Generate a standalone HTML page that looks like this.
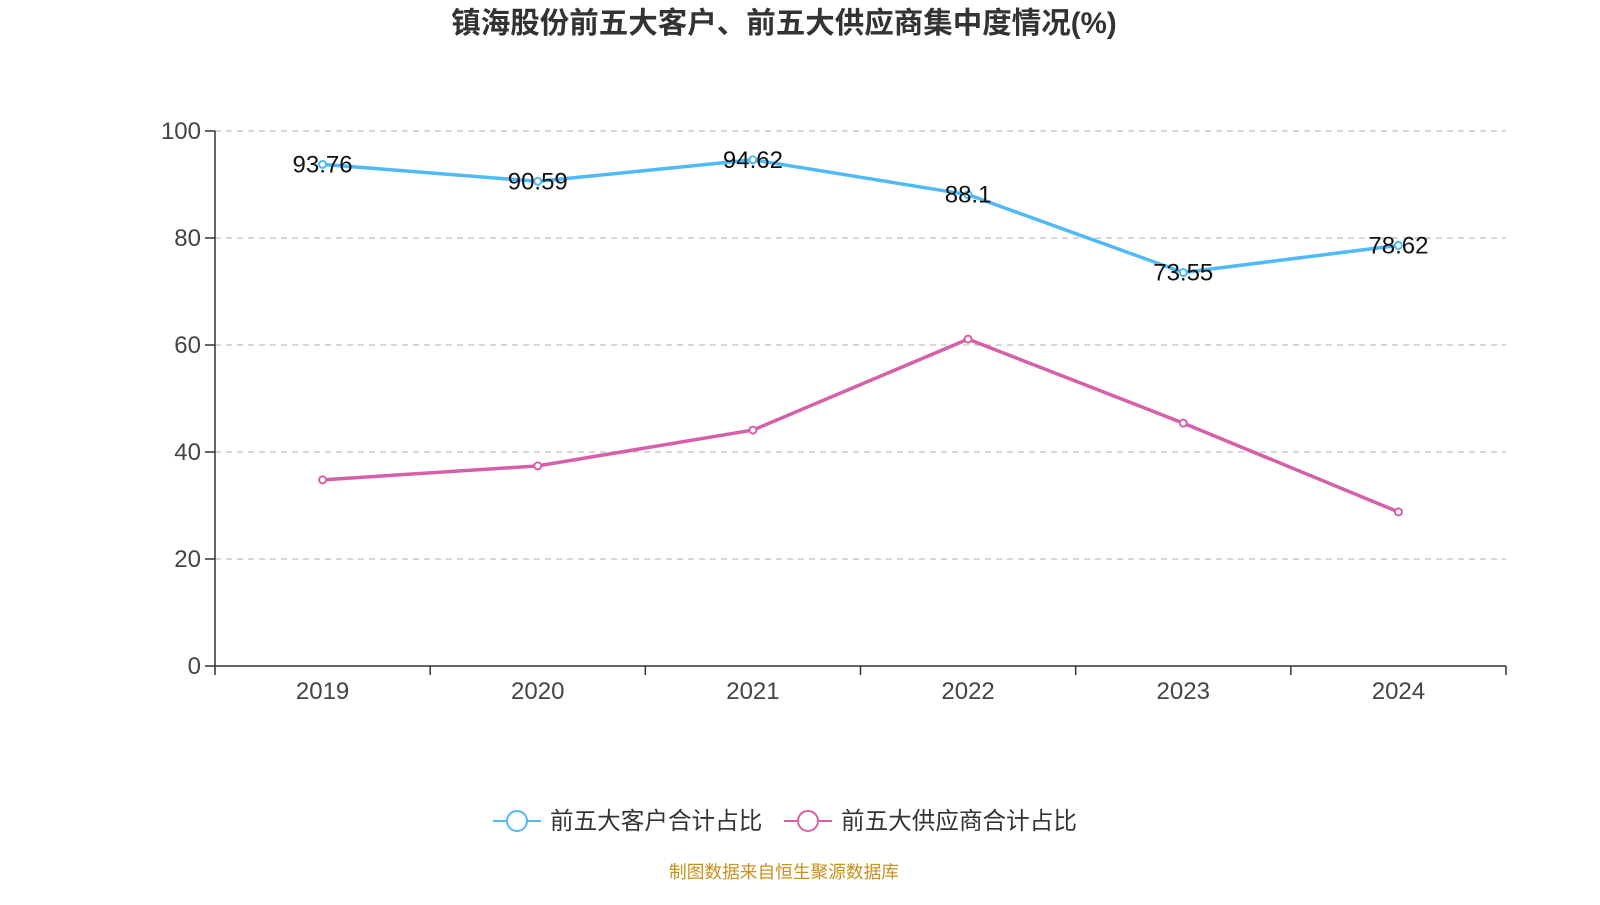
<!DOCTYPE html>
<html><head><meta charset="utf-8">
<style>
body{margin:0;background:#fff;width:1600px;height:900px;overflow:hidden;font-family:"Liberation Sans","Noto Sans CJK SC",sans-serif;}
</style></head>
<body>
<svg id="chart" width="1600" height="900" xmlns="http://www.w3.org/2000/svg" style="font-family:'Liberation Sans','Noto Sans CJK SC',sans-serif">
<text x="784" y="33" text-anchor="middle" font-size="29.5" font-weight="bold" fill="#333">镇海股份前五大客户、前五大供应商集中度情况(%)</text>
<g id="grid"></g><g id="axes"></g><g id="series"></g>
<g>
<line x1="493" y1="821" x2="541" y2="821" stroke="#4fbaf5" stroke-width="2"/>
<circle cx="517" cy="821" r="10" fill="#fff" stroke="#4fbaf5" stroke-width="2"/>
<text x="550" y="829" font-size="23.6" fill="#333">前五大客户合计占比</text>
<line x1="784" y1="821" x2="832" y2="821" stroke="#d660a8" stroke-width="2"/>
<circle cx="808" cy="821" r="10" fill="#fff" stroke="#d660a8" stroke-width="2"/>
<text x="841" y="829" font-size="23.6" fill="#333">前五大供应商合计占比</text>
</g>
<text x="784" y="878" text-anchor="middle" font-size="17.7" fill="#c8901c">制图数据来自恒生聚源数据库</text>
</svg>
<script>
const categories=["2019","2020","2021","2022","2023","2024"];
const customers=[93.76,90.59,94.62,88.1,73.55,78.62];
const suppliers=[34.8,37.4,44.1,61.1,45.4,28.8];
const yTicks=[0,20,40,60,80,100];
const NS="http://www.w3.org/2000/svg";
const x0=215,x1=1506,yBase=666,yTop=131;
const band=(x1-x0)/categories.length;
const xs=i=>x0+band*(i+0.5);
const ys=v=>yBase-(v/100)*(yBase-yTop);
function mk(tag,attrs,parent){const e=document.createElementNS(NS,tag);for(const k in attrs)e.setAttribute(k,attrs[k]);document.getElementById(parent).appendChild(e);return e;}
yTicks.forEach(t=>{
  const y=ys(t);
  if(t>0){const g=mk('line',{x1:x0,x2:x1,y1:y,y2:y,stroke:'#ccc','stroke-dasharray':'6,5','stroke-width':1.5},'grid');
  
  }
  const tk=mk('line',{x1:x0-10,x2:x0,y1:y,y2:y,stroke:'#333','stroke-width':1.5},'axes');
  
  
  const l=mk('text',{x:x0-14,y:y+8,'text-anchor':'end','font-size':24,fill:'#444'},'axes');l.textContent=t;
  
  
});
const ya=mk('line',{x1:x0,x2:x0,y1:yTop,y2:yBase,stroke:'#333','stroke-width':1.5},'axes');


const xa=mk('line',{x1:x0,x2:x1,y1:yBase,y2:yBase,stroke:'#333','stroke-width':1.5},'axes');


for(let i=0;i<=categories.length;i++){const x=x0+band*i;const t=mk('line',{x1:x,x2:x,y1:yBase,y2:yBase+9,stroke:'#333','stroke-width':1.5},'axes');

}
categories.forEach((c,i)=>{const l=mk('text',{x:xs(i),y:yBase+33,'text-anchor':'middle','font-size':24,fill:'#444'},'axes');l.textContent=c;

});
function series(vals,color,name,labels){
  const p=mk('polyline',{points:vals.map((v,i)=>xs(i)+','+ys(v)).join(' '),fill:'none',stroke:color,'stroke-width':3.5,'stroke-linejoin':'round'},'series');
  
  
  vals.forEach((v,i)=>{
    const c=mk('circle',{cx:xs(i),cy:ys(v),r:3.5,fill:'#fff',stroke:color,'stroke-width':2},'series');
    
    
    if(labels){const t=mk('text',{x:xs(i),y:ys(v)+8,'text-anchor':'middle','font-size':24,fill:'#111'},'series');t.textContent=v;
    
    }
  });
}
series(customers,'#4fbaf5','customers',true);
series(suppliers,'#d660a8','suppliers',false);
</script>
</body></html>
